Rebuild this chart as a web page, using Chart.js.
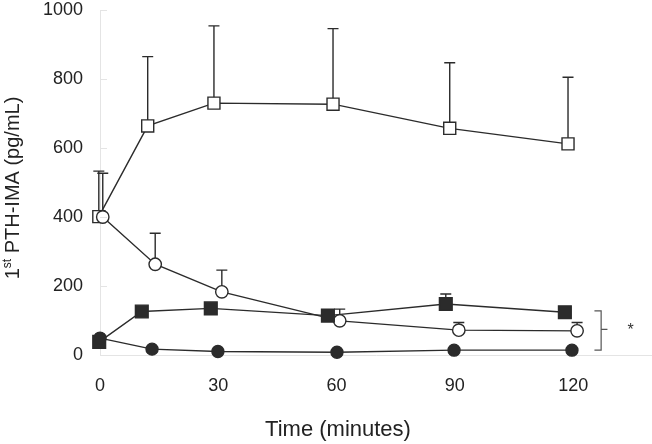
<!DOCTYPE html>
<html>
<head>
<meta charset="utf-8">
<script src="https://cdn.jsdelivr.net/npm/chart.js@4/dist/chart.umd.min.js"></script>
<style>
  html, body { margin: 0; padding: 0; background: #fff; }
  #wrap { width: 652px; height: 444px; }
</style>
</head>
<body>
<div id="wrap"><canvas id="chart"></canvas></div>
<script>
// axis ticks
const xTicks = [0, 30, 60, 90, 120];
const yTicks = [0, 200, 400, 600, 800, 1000];

// open squares
const openSqTime = [-0.3, 12.1, 28.9, 59.1, 88.7, 118.7];
const openSqValue = [401, 664, 730, 727, 657, 612];
const openSqUpper = [533, 865, 954, 946, 847, 805];

// open circles
const openCircTime = [0.7, 14, 30.9, 60.8, 91, 121];
const openCircValue = [400, 263, 183, 99, 72, 70];
const openCircUpper = [527, 353, 246, 133, 94, 94];

// filled squares
const fillSqTime = [-0.2, 10.6, 28.1, 57.8, 87.7, 117.9];
const fillSqValue = [38, 126, 135, 114, 148, 124];
const fillSqUpper = [null, null, null, null, 177, null];

// filled circles
const fillCircTime = [0, 13.2, 29.9, 60.1, 89.8, 119.7];
const fillCircValue = [49, 17, 10, 8, 14, 14];

const INK = '#2b2b2b';
const FONT = '"Liberation Sans", Arial, sans-serif';

const toPoints = (times, values) => times.map((t, i) => ({ x: t, y: values[i] }));

const makeSet = (times, values, style, fill, radius, upper) => ({
  data: toPoints(times, values),
  upper: upper,
  showLine: true,
  borderColor: INK,
  borderWidth: 1.4,
  pointStyle: style,
  pointRadius: radius,
  pointBackgroundColor: fill,
  pointBorderColor: INK,
  pointBorderWidth: 1.4,
  clip: false
});

// error bars, titles, bracket
const decorations = {
  id: 'decorations',
  beforeDatasetsDraw(chart) {
    const ctx = chart.ctx;
    const xs = chart.scales.x;
    const ys = chart.scales.y;
    ctx.save();
    ctx.strokeStyle = INK;
    ctx.lineWidth = 1.4;
    chart.data.datasets.forEach(ds => {
      if (!ds.upper) return;
      ds.data.forEach((p, i) => {
        const u = ds.upper[i];
        if (u == null) return;
        const px = xs.getPixelForValue(p.x);
        const y0 = ys.getPixelForValue(p.y);
        const y1 = ys.getPixelForValue(u);
        ctx.beginPath();
        ctx.moveTo(px, y0);
        ctx.lineTo(px, y1);
        ctx.moveTo(px - 5.5, y1);
        ctx.lineTo(px + 5.5, y1);
        ctx.stroke();
      });
    });
    ctx.restore();
  },
  afterDraw(chart) {
    const ctx = chart.ctx;
    const xs = chart.scales.x;
    const ys = chart.scales.y;
    const area = chart.chartArea;
    ctx.save();

    // faint inward ticks on y axis
    ctx.strokeStyle = '#e4e4e4';
    ctx.lineWidth = 1;
    yTicks.forEach(v => {
      const py = Math.round(ys.getPixelForValue(v)) + 0.5;
      ctx.beginPath();
      ctx.moveTo(area.left, py);
      ctx.lineTo(area.left + 7, py);
      ctx.stroke();
    });

    // bracket + asterisk
    const bx = xs.getPixelForValue(127.1);
    const bl = xs.getPixelForValue(125.4);
    const bt = xs.getPixelForValue(128.7);
    const yTop = ys.getPixelForValue(128);
    const yBot = ys.getPixelForValue(14);
    const yMid = ys.getPixelForValue(74);
    ctx.strokeStyle = '#555';
    ctx.lineWidth = 1.2;
    ctx.beginPath();
    ctx.moveTo(bl, yTop);
    ctx.lineTo(bx, yTop);
    ctx.lineTo(bx, yBot);
    ctx.lineTo(bl, yBot);
    ctx.moveTo(bx, yMid);
    ctx.lineTo(bt, yMid);
    ctx.stroke();
    ctx.fillStyle = '#333';
    ctx.font = '16px ' + FONT;
    ctx.textAlign = 'center';
    ctx.textBaseline = 'middle';
    ctx.fillText('*', xs.getPixelForValue(134.6), ys.getPixelForValue(70));

    // x title
    ctx.fillStyle = '#222';
    ctx.font = '22px ' + FONT;
    ctx.textAlign = 'center';
    ctx.textBaseline = 'alphabetic';
    ctx.fillText('Time (minutes)', 338, 436);

    // y title with superscript
    const big = '20px ' + FONT;
    const small = '12px ' + FONT;
    ctx.font = big;
    const w1 = ctx.measureText('1').width;
    const w3 = ctx.measureText(' PTH-IMA (pg/mL)').width;
    ctx.font = small;
    const w2 = ctx.measureText('st').width;
    const total = w1 + w2 + w3;
    ctx.translate(19, 188);
    ctx.rotate(-Math.PI / 2);
    ctx.textAlign = 'left';
    let cx = -total / 2;
    ctx.font = big;
    ctx.fillText('1', cx, 0);
    cx += w1;
    ctx.font = small;
    ctx.fillText('st', cx, -8);
    cx += w2;
    ctx.font = big;
    ctx.fillText(' PTH-IMA (pg/mL)', cx, 0);
    ctx.restore();
  }
};

new Chart(document.getElementById('chart'), {
  type: 'scatter',
  data: {
    datasets: [
      makeSet(fillCircTime, fillCircValue, 'circle', INK, 6, null),
      makeSet(fillSqTime, fillSqValue, 'rect', INK, 9, fillSqUpper),
      makeSet(openCircTime, openCircValue, 'circle', '#fff', 6.2, openCircUpper),
      makeSet(openSqTime, openSqValue, 'rect', '#fff', 8.5, openSqUpper)
    ]
  },
  options: {
    responsive: true,
    maintainAspectRatio: false,
    animation: false,
    layout: { autoPadding: false, padding: { top: 10, left: 0, right: 0, bottom: 0 } },
    plugins: {
      legend: { display: false },
      tooltip: { enabled: false }
    },
    scales: {
      x: {
        type: 'linear',
        min: 0,
        max: 140,
        afterBuildTicks: s => { s.ticks = xTicks.map(v => ({ value: v })); },
        afterFit: s => { s.height = 89; s.paddingLeft = 0; s.paddingRight = 0; },
        grid: { display: false, drawTicks: false },
        border: { display: true, color: '#e4e4e4', width: 1 },
        ticks: { font: { size: 18, family: FONT }, color: '#222', padding: 20, maxRotation: 0 }
      },
      y: {
        min: 0,
        max: 1000,
        afterBuildTicks: s => { s.ticks = yTicks.map(v => ({ value: v })); },
        afterFit: s => { s.width = 100; s.paddingTop = 0; s.paddingBottom = 0; },
        grid: { display: false, drawTicks: false },
        border: { display: true, color: '#e4e4e4', width: 1 },
        ticks: {
          font: { size: 18, family: FONT },
          color: '#222',
          padding: 17,
          callback: v => String(v)
        }
      }
    }
  },
  plugins: [decorations]
});
</script>
</body>
</html>
